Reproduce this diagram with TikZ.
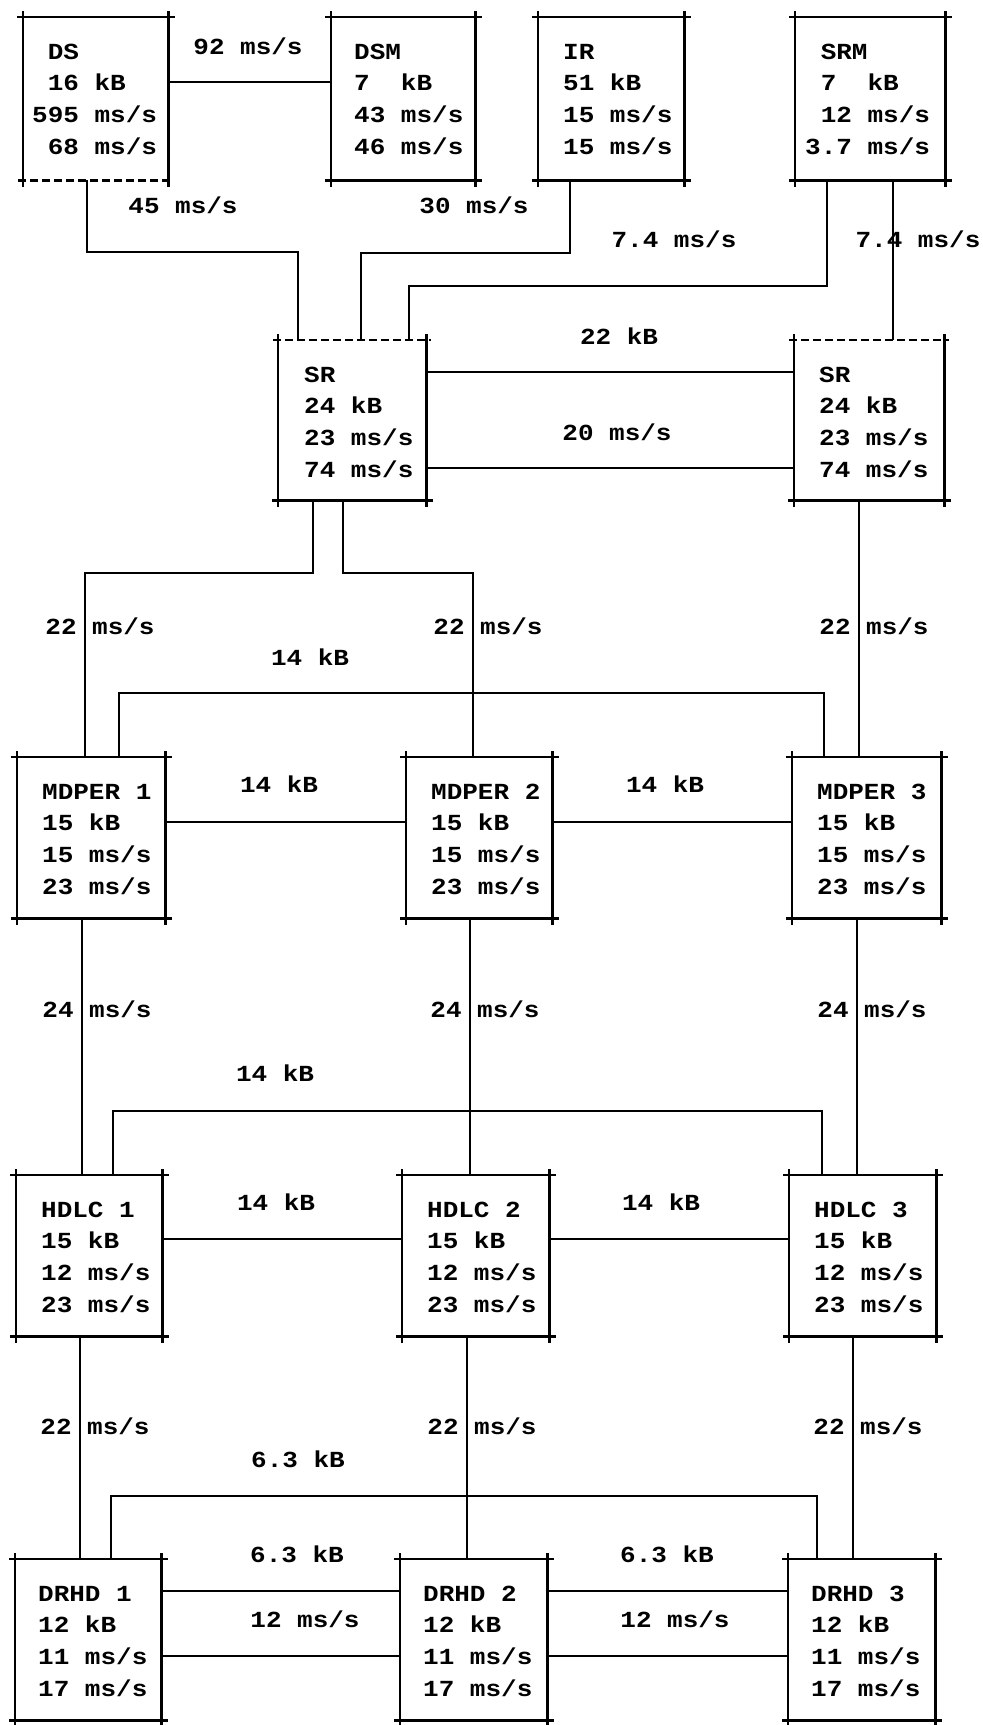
\documentclass[tikz,border=0pt]{standalone}
\usepackage{fontspec}
\newfontfamily\tw{Liberation Mono}[FakeStretch=1.13]
\newcommand\frameit[3]{%
  \draw[edge,#2] ([xshift=-5pt]#1.north west) -- ([xshift=5pt]#1.north east);
  \draw[edge,#3] ([xshift=-5pt]#1.south west) -- ([xshift=5pt]#1.south east);
  \draw[edge] ([yshift=5pt]#1.north west) -- ([yshift=-5pt]#1.south west);
  \draw[edge] ([yshift=5pt]#1.north east) -- ([yshift=-5pt]#1.south east);
}
\newcommand\boxlines[6]{%
  \node[txt] (#1-1) at ([xshift=#2pt,yshift=-42pt]#1.north west) {#3};
  \node[txt] (#1-2) at ([xshift=#2pt,yshift=-73.7pt]#1.north west) {#4};
  \node[txt] (#1-3) at ([xshift=#2pt,yshift=-105.4pt]#1.north west) {#5};
  \node[txt] (#1-4) at ([xshift=#2pt,yshift=-137.1pt]#1.north west) {#6};
}
\newcommand\ph{\hphantom{0}}
\begin{document}
\begin{tikzpicture}[x=1pt,y=-1pt,
  blk/.style={rectangle,inner sep=0pt,anchor=north west},
  edge/.style={line width=2.4pt,line cap=rect},
  dsh/.style={dash pattern=on 8pt off 4pt,line cap=butt},
  wire/.style={line width=2.4pt},
  txt/.style={anchor=base west,inner sep=0pt,font=\fontsize{23}{28}\tw\bfseries},
  lbl/.style={anchor=mid,inner sep=0pt,font=\fontsize{23}{28}\tw\bfseries}]
\useasboundingbox[fill=white] (0,0) rectangle (983,1725);

% boxes
\node[blk,minimum width=145pt,minimum height=163pt] (ds)  at (23,17) {};
\node[blk,minimum width=144pt,minimum height=163pt] (dsm) at (331,17) {};
\node[blk,minimum width=146pt,minimum height=163pt] (ir)  at (538,17) {};
\node[blk,minimum width=150pt,minimum height=163pt] (srm) at (795,17) {};
\node[blk,minimum width=148pt,minimum height=160pt] (srl) at (278,340) {};
\node[blk,minimum width=150pt,minimum height=160pt] (srr) at (794,340) {};
\node[blk,minimum width=148pt,minimum height=161pt] (md1) at (17,757) {};
\node[blk,minimum width=146pt,minimum height=161pt] (md2) at (406,757) {};
\node[blk,minimum width=149pt,minimum height=161pt] (md3) at (792,757) {};
\node[blk,minimum width=146pt,minimum height=161pt] (hd1) at (16,1175) {};
\node[blk,minimum width=147pt,minimum height=161pt] (hd2) at (402,1175) {};
\node[blk,minimum width=147pt,minimum height=161pt] (hd3) at (789,1175) {};
\node[blk,minimum width=146pt,minimum height=161pt] (dr1) at (15,1559) {};
\node[blk,minimum width=147pt,minimum height=161pt] (dr2) at (400,1559) {};
\node[blk,minimum width=147pt,minimum height=161pt] (dr3) at (788,1559) {};

\frameit{ds}{}{dsh}
\frameit{dsm}{}{}
\frameit{ir}{}{}
\frameit{srm}{}{}
\frameit{srl}{dsh}{}
\frameit{srr}{dsh}{}
\foreach \n in {md1,md2,md3,hd1,hd2,hd3,dr1,dr2,dr3} {\frameit{\n}{}{}}

% box texts
\boxlines{ds}{9}{\ph DS}{\ph 16 kB}{595 ms/s}{\ph 68 ms/s}
\boxlines{dsm}{23}{DSM}{7\ph\ph kB}{43 ms/s}{46 ms/s}
\boxlines{ir}{25}{IR}{51 kB}{15 ms/s}{15 ms/s}
\boxlines{srm}{10}{\ph SRM}{\ph 7\ph\ph kB}{\ph 12 ms/s}{3.7 ms/s}
\boxlines{srl}{26}{SR}{24 kB}{23 ms/s}{74 ms/s}
\boxlines{srr}{25}{SR}{24 kB}{23 ms/s}{74 ms/s}
\boxlines{md1}{25}{MDPER 1}{15 kB}{15 ms/s}{23 ms/s}
\boxlines{md2}{25}{MDPER 2}{15 kB}{15 ms/s}{23 ms/s}
\boxlines{md3}{25}{MDPER 3}{15 kB}{15 ms/s}{23 ms/s}
\boxlines{hd1}{25}{HDLC 1}{15 kB}{12 ms/s}{23 ms/s}
\boxlines{hd2}{25}{HDLC 2}{15 kB}{12 ms/s}{23 ms/s}
\boxlines{hd3}{25}{HDLC 3}{15 kB}{12 ms/s}{23 ms/s}
\boxlines{dr1}{23}{DRHD 1}{12 kB}{11 ms/s}{17 ms/s}
\boxlines{dr2}{23}{DRHD 2}{12 kB}{11 ms/s}{17 ms/s}
\boxlines{dr3}{23}{DRHD 3}{12 kB}{11 ms/s}{17 ms/s}

% connectors
\draw[wire] (ds.east |- 0,82) -- (dsm.west |- 0,82);
\draw[wire] (ds.south -| 87,0) |- (298,252) -- (srl.north -| 298,0);
\draw[wire] (ir.south -| 570,0) |- (361,253) -- (srl.north -| 361,0);
\draw[wire] (srm.south -| 827,0) |- (409,286) -- (srl.north -| 409,0);
\draw[wire] (srm.south -| 893,0) -- (srr.north -| 893,0);
\draw[wire] (srl.east |- 0,372) -- (srr.west |- 0,372);
\draw[wire] (srl.east |- 0,468) -- (srr.west |- 0,468);
\draw[wire] (srl.south -| 313,0) |- (85,573) -- (md1.north -| 85,0);
\draw[wire] (srl.south -| 343,0) |- (473,573) -- (md2.north -| 473,0);
\draw[wire] (srr.south -| 859,0) -- (md3.north -| 859,0);
\draw[wire] (md1.north -| 119,0) |- (824,693) -- (md3.north -| 824,0);
\draw[wire] (md1.east |- 0,822) -- (md2.west |- 0,822);
\draw[wire] (md2.east |- 0,822) -- (md3.west |- 0,822);
\draw[wire] (md1.south -| 82,0) -- (hd1.north -| 82,0);
\draw[wire] (md2.south -| 470,0) -- (hd2.north -| 470,0);
\draw[wire] (md3.south -| 857,0) -- (hd3.north -| 857,0);
\draw[wire] (hd1.north -| 113,0) |- (822,1111) -- (hd3.north -| 822,0);
\draw[wire] (hd1.east |- 0,1239) -- (hd2.west |- 0,1239);
\draw[wire] (hd2.east |- 0,1239) -- (hd3.west |- 0,1239);
\draw[wire] (hd1.south -| 80,0) -- (dr1.north -| 80,0);
\draw[wire] (hd2.south -| 467,0) -- (dr2.north -| 467,0);
\draw[wire] (hd3.south -| 853,0) -- (dr3.north -| 853,0);
\draw[wire] (dr1.north -| 111,0) |- (817,1496) -- (dr3.north -| 817,0);
\draw[wire] (dr1.east |- 0,1591) -- (dr2.west |- 0,1591);
\draw[wire] (dr2.east |- 0,1591) -- (dr3.west |- 0,1591);
\draw[wire] (dr1.east |- 0,1656) -- (dr2.west |- 0,1656);
\draw[wire] (dr2.east |- 0,1656) -- (dr3.west |- 0,1656);

% labels
\node[lbl] (l1) at (248,52) {92 ms/s};
\node[lbl] (l2) at (183,211) {45 ms/s};
\node[lbl] (l3) at (474,211) {30 ms/s};
\node[lbl] (l4) at (674,245) {7.4 ms/s};
\node[lbl] (l5) at (918,245) {7.4 ms/s};
\node[lbl] (l6) at (619,342) {22 kB};
\node[lbl] (l7) at (617,438) {20 ms/s};
\node[lbl] (l8) at (100,632) {22 ms/s};
\node[lbl] (l9) at (488,632) {22 ms/s};
\node[lbl] (l10) at (874,632) {22 ms/s};
\node[lbl] (l11) at (310,663) {14 kB};
\node[lbl] (l12) at (279,790) {14 kB};
\node[lbl] (l13) at (665,790) {14 kB};
\node[lbl] (l14) at (97,1015) {24 ms/s};
\node[lbl] (l15) at (485,1015) {24 ms/s};
\node[lbl] (l16) at (872,1015) {24 ms/s};
\node[lbl] (l17) at (275,1079) {14 kB};
\node[lbl] (l18) at (276,1208) {14 kB};
\node[lbl] (l19) at (661,1208) {14 kB};
\node[lbl] (l20) at (95,1432) {22 ms/s};
\node[lbl] (l21) at (482,1432) {22 ms/s};
\node[lbl] (l22) at (868,1432) {22 ms/s};
\node[lbl] (l23) at (298,1465) {6.3 kB};
\node[lbl] (l24) at (297,1560) {6.3 kB};
\node[lbl] (l25) at (667,1560) {6.3 kB};
\node[lbl] (l26) at (305,1625) {12 ms/s};
\node[lbl] (l27) at (675,1625) {12 ms/s};
\end{tikzpicture}
\end{document}
